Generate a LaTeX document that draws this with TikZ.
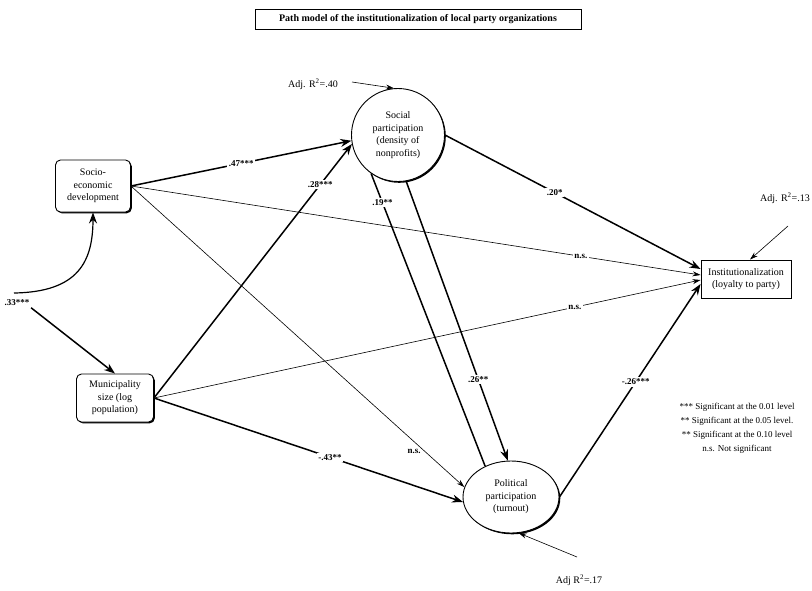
\documentclass[tikz,border=0pt]{standalone}
\usepackage{fontspec}
\setmainfont{Liberation Serif}
\usetikzlibrary{arrows.meta,shapes.geometric,shadows}

\begin{document}
\begin{tikzpicture}[x=1pt,y=-1pt,
	shade/.style={drop shadow={shadow xshift=1.3pt,shadow yshift=-1.3pt,opacity=1,fill=black}},
	var/.style={draw,line width=0.9pt,fill=white,align=center,inner sep=1pt,shade,font=\fontsize{10}{12.5}\selectfont},
	strong/.style={line width=1.5pt,-{Stealth[length=11pt,width=8pt]}},
	weak/.style={line width=0.6pt,-{Stealth[length=8pt,width=5pt]}},
	coef/.style={fill=white,inner sep=1.5pt,font=\fontsize{9}{10}\selectfont\bfseries},
	note/.style={font=\fontsize{10}{11}\selectfont}]
	\useasboundingbox (0,0) rectangle (812,590);
	% title
	\node[draw,line width=0.6pt,fill=white,shade,minimum width=326pt,minimum height=20pt,font=\fontsize{10}{11}\selectfont\bfseries] (title) at (418,19) {Path model of the institutionalization of local party organizations};
	% variables
	\node[var,rounded corners=5pt,minimum width=75pt,minimum height=52pt] (socio) at (93,186) {Socio-\\economic\\development};
	\node[var,rounded corners=5pt,minimum width=77pt,minimum height=48pt] (muni) at (115,398) {Municipality\\size (log\\population)};
	\node[var,circle,minimum size=93pt] (social) at (398,135) {Social\\participation\\(density of\\nonprofits)};
	\node[var,ellipse,minimum width=96pt,minimum height=72pt,inner sep=0pt] (polit) at (511,497) {Political\\participation\\(turnout)};
	\node[var,minimum width=90pt,minimum height=38pt] (inst) at (746,279) {Institutionalization\\(loyalty to party)};
	% explained variance
	\node[note] (r2soc) at (313,84) {Adj. R\textsuperscript{2}=.40};
	\coordinate (s1) at (352,82);
	\draw[weak] (s1) -- (social.95);
	\node[note] (r2inst) at (785,198) {Adj. R\textsuperscript{2}=.13};
	\coordinate (s2) at (788,226);
	\draw[weak] (s2) -- ([xshift=4pt]inst.north);
	\node[note] (r2pol) at (579,580) {Adj R\textsuperscript{2}=.17};
	\coordinate (s3) at (577,557);
	\draw[weak] (s3) -- (polit.282);
	% correlation of the exogenous variables
	\node[coef] (corr) at (17,303) {.33***};
	\coordinate (c0) at (14,293);
	\draw[line width=1.2pt,-{Stealth[length=11pt,width=8pt]}] (c0) .. controls (78,292) and (93,262) .. (socio.south);
	\draw[strong] (corr.south east) -- (muni.north);
	% paths
	\draw[strong] (socio.east) -- node[coef] {.47***} (social.187);
	\draw[strong] (muni.east) -- node[coef,pos=0.84] {.28***} (social.191);
	\draw[weak] (socio.east) -- node[coef,pos=0.79] {n.s.} ([yshift=4pt]inst.west);
	\draw[weak] (muni.east) -- node[coef,pos=0.77] {n.s.} ([yshift=-1pt]inst.west);
	\draw[weak] (socio.east) -- node[coef,pos=0.88,left,xshift=-2pt,fill=none] {n.s.} (polit.168);
	\draw[strong] (muni.east) -- node[coef,pos=0.57] {-.43**} (polit.186);
	\draw[strong] (social.east) -- node[coef,pos=0.43] {.20*} ([yshift=10pt]inst.west);
	\draw[strong] (social.-80) -- node[coef,pos=0.71] {.26**} (polit.95);
	\draw[line width=1.5pt] (social.-125) -- node[coef,pos=0.1] {.19**} (polit.130);
	\draw[strong] (polit.east) -- node[coef,pos=0.54] {-.26***} ([yshift=-5pt]inst.west);
	% legend
	\node[note,align=center,font=\fontsize{9}{14}\selectfont] (legend) at (737,428) {*** Significant at the 0.01 level\\** Significant at the 0.05 level.\\** Significant at the 0.10 level\\n.s. Not significant};
\end{tikzpicture}
\end{document}
